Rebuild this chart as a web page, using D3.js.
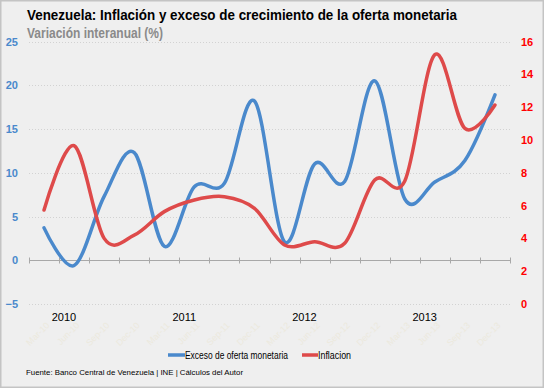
<!DOCTYPE html>
<html>
<head>
<meta charset="utf-8">
<script src="https://cdn.jsdelivr.net/npm/d3@7"></script>
<style>
  html, body { margin: 0; padding: 0; background: #efefef; }
  svg { display: block; }
</style>
</head>
<body>
<svg id="chart" width="544" height="388"></svg>
<script>
const categories = ["Mar-10","Jun-10","Sep-10","Dec-10","Mar-11","Jun-11","Sep-11","Dec-11",
                    "Mar-12","Jun-12","Sep-12","Dec-12","Mar-13","Jun-13","Sep-13","Dec-13"];
const excesoOferta = [3.7, -0.6, 7.3, 12.3, 1.6, 8.4, 8.8, 18.2, 2.1, 11.0, 9.0, 20.5, 7.0, 8.95, 11.4, 18.9];
const inflacion   = [5.73, 9.65, 4.0, 4.2, 5.63, 6.34, 6.54, 5.83, 3.6, 3.8, 3.7, 7.56, 7.5, 15.2, 10.7, 12.13];
const leftTicks = [-5, 0, 5, 10, 15, 20, 25];
const rightTicks = [0, 2, 4, 6, 8, 10, 12, 14, 16];
const yearLabels = ["2010", "2011", "2012", "2013"];
const seriesNames = ["Exceso de oferta monetaria", "Inflacion"];

const W = 544, H = 388;
const svg = d3.select("#chart");
const blue = "#4a89cc", red = "#de4a4a";

// background + frame
svg.append("rect").attr("x", 0.5).attr("y", 0.5).attr("width", W - 1).attr("height", H - 1)
  .attr("fill", "#efefef").attr("stroke", "#c4c4c4").attr("stroke-width", 2);

const x = d3.scaleBand().domain(categories).range([29, 510]);
const yL = d3.scaleLinear().domain([-5, 25]).range([304, 41.5]);
const yR = d3.scaleLinear().domain([0, 16]).range([304, 41.5]);

// title
svg.append("text").attr("x", 27).attr("y", 20)
  .attr("font-family", "'Liberation Sans Narrow', 'Liberation Sans', Arial, sans-serif")
  .attr("font-weight", "bold").attr("font-size", 15.5).attr("fill", "#000")
  .attr("textLength", 430).attr("lengthAdjust", "spacingAndGlyphs")
  .text("Venezuela: Inflación y exceso de crecimiento de la oferta monetaria");
svg.append("text").attr("x", 27).attr("y", 38)
  .attr("font-family", "'Liberation Sans Narrow', 'Liberation Sans', Arial, sans-serif")
  .attr("font-weight", "bold").attr("font-size", 14).attr("fill", "#8a8a8a")
  .attr("textLength", 136).attr("lengthAdjust", "spacingAndGlyphs")
  .text("Variación interanual (%)");

// gridlines
svg.append("g").selectAll("line").data(leftTicks.filter(d => d !== 0)).join("line")
  .attr("x1", 29).attr("x2", 510)
  .attr("y1", d => Math.round(yL(d)) + 0.5).attr("y2", d => Math.round(yL(d)) + 0.5)
  .attr("stroke", "#d2d2d2").attr("stroke-width", 1).attr("stroke-dasharray", "1,2");

// left axis
const gL = svg.append("g").attr("transform", "translate(18,0)")
  .call(d3.axisLeft(yL).tickValues(leftTicks).tickSize(0).tickPadding(0));
gL.select(".domain").remove();
gL.selectAll("text").attr("fill", blue).attr("font-weight", "bold")
  .attr("font-size", 11).attr("font-family", "'Liberation Sans', Arial, sans-serif");

// right axis
const gR = svg.append("g").attr("transform", "translate(521,0)")
  .call(d3.axisRight(yR).tickValues(rightTicks).tickSize(0).tickPadding(0));
gR.select(".domain").remove();
gR.selectAll("text").attr("fill", "#ff0000").attr("font-weight", "bold")
  .attr("font-size", 11).attr("font-family", "'Liberation Sans', Arial, sans-serif");

// x axis line at 0 with ticks at category boundaries
const y0 = Math.round(yL(0)) + 0.5;
const xAxis = svg.append("g");
xAxis.append("line").attr("x1", 29).attr("x2", 510).attr("y1", y0).attr("y2", y0)
  .attr("stroke", "#a8a8a8").attr("stroke-width", 1.2);
const bounds = categories.map(c => x(c)).concat([x.range()[1]]);
xAxis.selectAll("line.tk").data(bounds).join("line").attr("class", "tk")
  .attr("x1", d => Math.round(d) + 0.5).attr("x2", d => Math.round(d) + 0.5)
  .attr("y1", y0 - 3).attr("y2", y0 + 3)
  .attr("stroke", "#a8a8a8").attr("stroke-width", 1);

// faint rotated category labels
svg.append("g").selectAll("text").data(categories).join("text")
  .attr("transform", d => `translate(${x(d) + x.bandwidth() / 2 + 6},326) rotate(-45)`)
  .attr("text-anchor", "end")
  .attr("font-family", "'Liberation Sans', Arial, sans-serif").attr("font-size", 9)
  .attr("fill", "#ece9dd")
  .text(d => d);

// year labels
svg.append("g").selectAll("text").data(yearLabels).join("text")
  .attr("x", (d, i) => x(categories[i * 4]) + 35)
  .attr("y", 321).attr("text-anchor", "middle")
  .attr("font-family", "'Liberation Sans', Arial, sans-serif").attr("font-size", 11)
  .attr("fill", "#000").text(d => d);

// lines
const cx = c => x(c) + x.bandwidth() / 2;
const lineL = d3.line().x((d, i) => cx(categories[i])).y(d => yL(d)).curve(d3.curveCatmullRom.alpha(0));
const lineR = d3.line().x((d, i) => cx(categories[i])).y(d => yR(d)).curve(d3.curveCatmullRom.alpha(0));

svg.append("path").datum(excesoOferta).attr("d", lineL)
  .attr("fill", "none").attr("stroke", blue).attr("stroke-width", 3.5)
  .attr("stroke-linecap", "round").attr("stroke-linejoin", "round");
svg.append("path").datum(inflacion).attr("d", lineR)
  .attr("fill", "none").attr("stroke", red).attr("stroke-width", 3.5)
  .attr("stroke-linecap", "round").attr("stroke-linejoin", "round");

// legend
const legendItems = [
  { name: seriesNames[0], color: blue, x: 168, w: 17, tl: 103 },
  { name: seriesNames[1], color: red, x: 302, w: 16, tl: 33 }
];
const lg = svg.append("g");
legendItems.forEach(it => {
  lg.append("line").attr("x1", it.x).attr("x2", it.x + it.w).attr("y1", 355).attr("y2", 355)
    .attr("stroke", it.color).attr("stroke-width", 3.5);
  lg.append("text").attr("x", it.x + it.w).attr("y", 358.5)
    .attr("font-family", "'Liberation Sans', Arial, sans-serif").attr("font-size", 10)
    .attr("textLength", it.tl).attr("lengthAdjust", "spacingAndGlyphs")
    .attr("fill", "#000").text(it.name);
});

// source
svg.append("text").attr("x", 26).attr("y", 375)
  .attr("font-family", "'Liberation Sans', Arial, sans-serif").attr("font-size", 8)
  .attr("textLength", 217).attr("lengthAdjust", "spacingAndGlyphs")
  .attr("fill", "#000")
  .text("Fuente: Banco Central de Venezuela | INE  |  Cálculos del Autor");
</script>
</body>
</html>
